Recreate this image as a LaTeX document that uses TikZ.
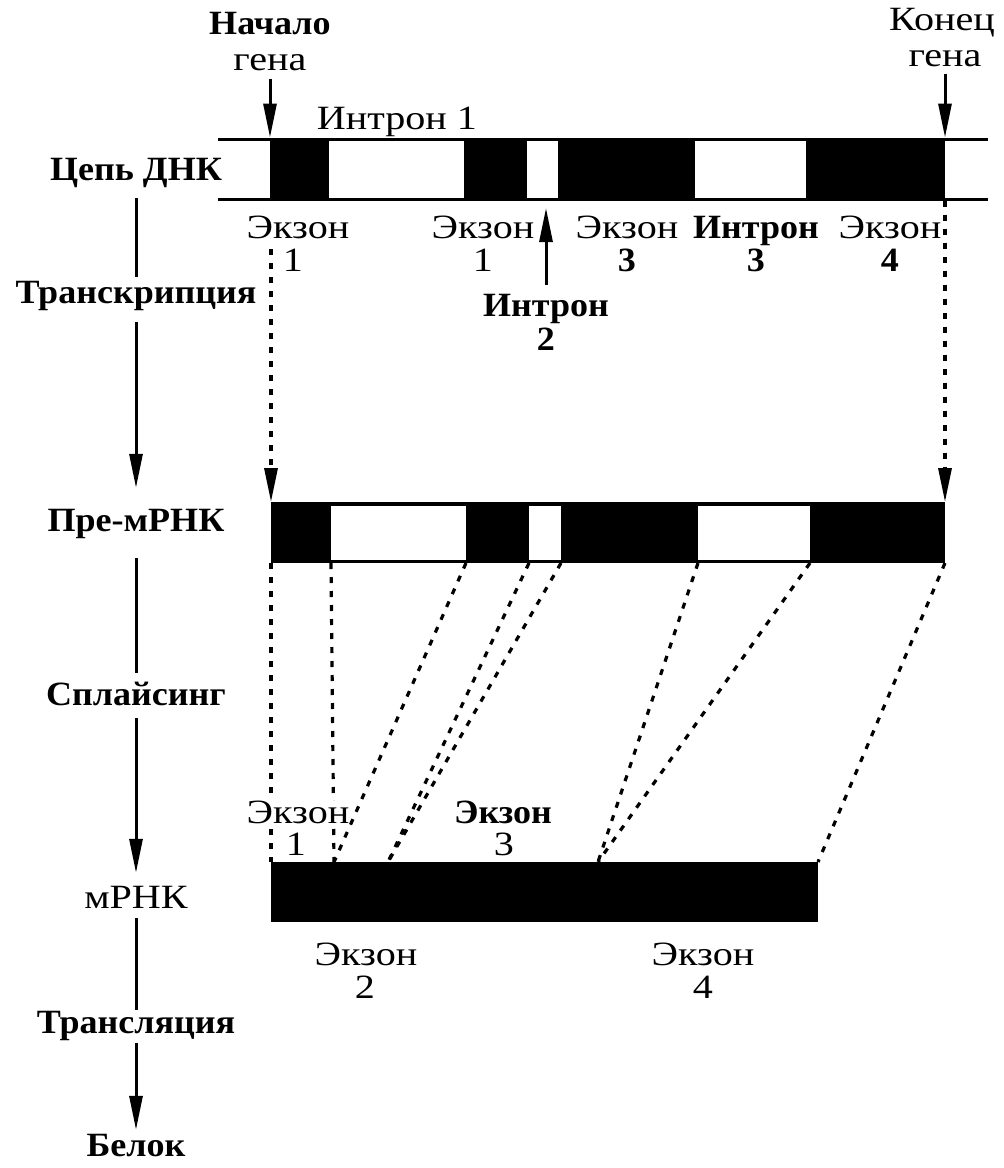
\documentclass[tikz,border=0pt]{standalone}
\usepackage{fontspec}
\setmainfont{Liberation Serif}[UprightFeatures={FakeStretch=1.18}, BoldFeatures={FakeStretch=1.06}]
\usetikzlibrary{arrows.meta}
\begin{document}
\begin{tikzpicture}[x=1pt,y=-1pt,
  font=\fontsize{34}{36}\selectfont,
  lbl/.style={anchor=base, inner sep=0pt},
  bl/.style={font=\fontsize{34}{36}\selectfont\bfseries},
  col/.style={anchor=base, inner xsep=0pt, inner ysep=0pt, text height=22pt, text depth=7pt},
  blk/.style={rectangle, anchor=north west, inner sep=0pt, outer sep=0pt, fill=black, draw=none},
  wblk/.style={rectangle, anchor=north west, inner sep=0pt, outer sep=0pt, fill=white, draw=none},
  strand/.style={line width=3pt},
  flow/.style={line width=3pt},
  tip/.style={-{Triangle[length=34pt,width=13pt]}},
  dotl/.style={line width=3.2pt, dash pattern=on 6pt off 8pt},
]
\fill[white] (0,0) rectangle (1004,1168);
\useasboundingbox (0,0) rectangle (1004,1168);

% ---------- DNA strand ----------
\coordinate (sL1) at (218,139); \coordinate (sR1) at (988,139);
\coordinate (sL2) at (218,199); \coordinate (sR2) at (988,199);
\draw[strand] (sL1) -- (sR1);
\draw[strand] (sL2) -- (sR2);
\node[blk, minimum width=59pt,  minimum height=63pt] (de1) at (270,137.5) {};
\node[blk, minimum width=63pt,  minimum height=63pt] (de2) at (464,137.5) {};
\node[blk, minimum width=137pt, minimum height=63pt] (de3) at (558,137.5) {};
\node[blk, minimum width=139pt, minimum height=63pt] (de4) at (806,137.5) {};

% ---------- pre-mRNA ----------
\node[blk, minimum width=674pt, minimum height=61pt] (pbar) at (271,502) {};
\node[blk, minimum width=60pt,  minimum height=61pt] (pe1) at (271,502) {};
\node[blk, minimum width=63pt,  minimum height=61pt] (pe2) at (466,502) {};
\node[blk, minimum width=137pt, minimum height=61pt] (pe3) at (561,502) {};
\node[blk, minimum width=135pt, minimum height=61pt] (pe4) at (810,502) {};
\node[wblk, minimum width=135pt, minimum height=54pt] (pi1) at (331,505.5) {};
\node[wblk, minimum width=32pt,  minimum height=54pt] (pi2) at (529,505.5) {};
\node[wblk, minimum width=112pt, minimum height=54pt] (pi3) at (698,505.5) {};

% ---------- mRNA ----------
\node[blk, minimum width=547pt, minimum height=60pt] (m) at (271,862) {};
\coordinate (j1) at (334,862);
\coordinate (j2) at (388,862);
\coordinate (j3) at (598,862);

% ---------- transcription dotted arrows ----------
\coordinate (tL) at (271,249);
\draw[dotl, tip] (tL) -- (pe1.north west);
\draw[dotl, tip] (de4.south east) -- (pe4.north east);

% ---------- splicing dotted lines ----------
\draw[dotl] (pe1.south west) -- (m.north west);
\draw[dotl] (pe1.south east) -- (j1);
\draw[dotl] (pe2.south west) -- (j1);
\draw[dotl] (pe2.south east) -- (j2);
\draw[dotl] (pe3.south west) -- (j2);
\draw[dotl] (pe3.south east) -- (j3);
\draw[dotl] (pe4.south west) -- (j3);
\draw[dotl] (pe4.south east) -- (m.north east);

% ---------- gene start / end ----------
\node[lbl, bl] (nach) at (270,34) {Начало};
\node[lbl] (gs) at (270,70) {гена};
\draw[flow, tip, shorten <=8pt] (gs.south) -- (de1.north west);
\node[lbl] (kon) at (942,30) {Конец};
\node[lbl] (ge) at (945,66) {гена};
\draw[flow, tip, shorten <=7pt] (ge.south) -- (de4.north east);

\node[lbl] (i1) at (397,129) {Интрон 1};

% ---------- labels under DNA ----------
\node[lbl] (e1) at (298,238) {Экзон};  \node[lbl] (e1n) at (293,271) {1};
\node[lbl] (e2) at (483,238) {Экзон};  \node[lbl] (e2n) at (483,271) {1};
\node[lbl] (e3) at (627,238) {Экзон};  \node[lbl, bl] (e3n) at (627,271) {3};
\node[lbl, bl] (i3) at (756,238) {Интрон}; \node[lbl, bl] (i3n) at (756,271) {3};
\node[lbl] (e4) at (890,238) {Экзон};  \node[lbl, bl] (e4n) at (890,271) {4};
\node[lbl, bl] (i2) at (546,316) {Интрон}; \node[lbl, bl] (i2n) at (546,350) {2};
\coordinate (i2tip) at (546,208);
\draw[flow, tip, shorten <=9pt] (i2.north) -- (i2tip);

% ---------- mRNA labels ----------
\node[lbl, fill=white] (me1) at (298,823) {Экзон}; \node[lbl] (me1n) at (296,855) {1};
\node[lbl, bl] (me3) at (503,823) {Экзон}; \node[lbl] (me3n) at (504,855) {3};
\node[lbl] (me2) at (366,965) {Экзон}; \node[lbl] (me2n) at (365,998) {2};
\node[lbl] (me4) at (703,965) {Экзон}; \node[lbl] (me4n) at (703,998) {4};

% ---------- left process column ----------
\node[col, bl] (dna) at (136,180) {Цепь ДНК};
\node[col, bl] (tr)  at (136,303) {Транскрипция};
\node[col, bl] (pre) at (136,531) {Пре-мРНК};
\node[col, bl] (spl) at (136,705) {Сплайсинг};
\node[col]     (mr)  at (136,908) {мРНК};
\node[col, bl] (tl)  at (136,1033) {Трансляция};
\node[col, bl] (bel) at (136,1156) {Белок};

\draw[flow, shorten <=11pt, shorten >=4pt] (dna.south) -- (tr.north);
\draw[flow, tip, shorten <=12pt, shorten >=21pt] (tr.south) -- (pre.north);
\draw[flow, shorten <=20pt, shorten >=10pt] (pre.south) -- (spl.north);
\draw[flow, tip, shorten <=6pt, shorten >=13pt] (spl.south) -- (mr.north);
\draw[flow, shorten <=3pt, shorten >=1pt] (mr.south) -- (tl.north);
\draw[flow, tip, shorten <=3pt, shorten >=4pt] (tl.south) -- (bel.north);
\end{tikzpicture}
\end{document}
